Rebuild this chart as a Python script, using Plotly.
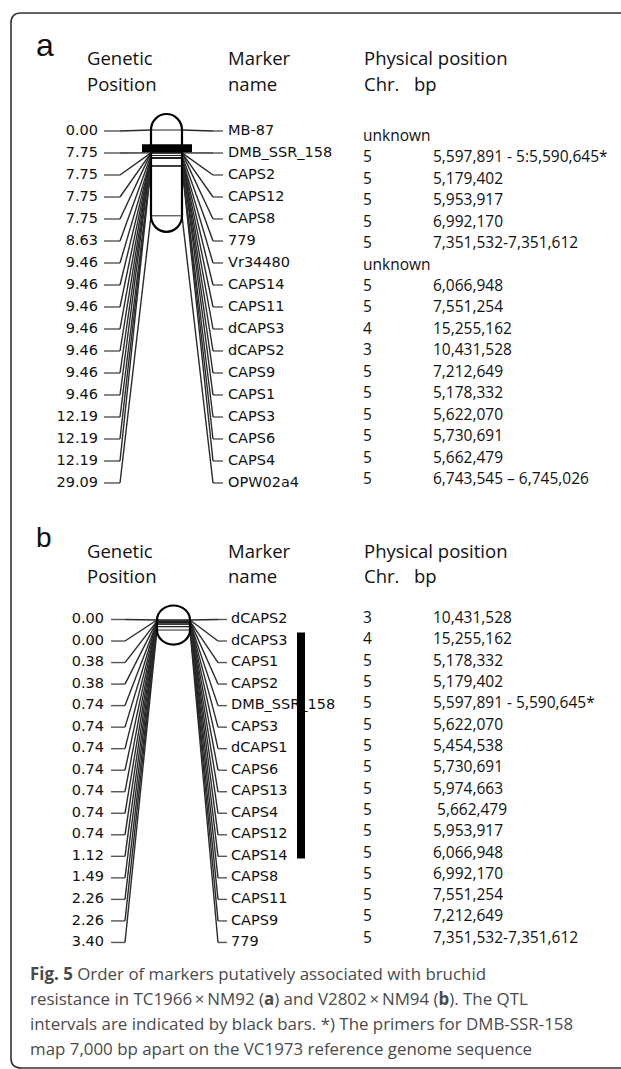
import plotly.graph_objects as go

# ---------------- data ----------------
a_markers = ["MB-87", "DMB_SSR_158", "CAPS2", "CAPS12", "CAPS8", "779", "Vr34480",
             "CAPS14", "CAPS11", "dCAPS3", "dCAPS2", "CAPS9", "CAPS1", "CAPS3",
             "CAPS6", "CAPS4", "OPW02a4"]
a_cm = [0.00, 7.75, 7.75, 7.75, 7.75, 8.63, 9.46, 9.46, 9.46, 9.46, 9.46, 9.46,
        9.46, 12.19, 12.19, 12.19, 29.09]
a_chr = ["unknown", "5", "5", "5", "5", "5", "unknown", "5", "5", "4", "3", "5",
         "5", "5", "5", "5", "5"]
a_bp = ["", "5,597,891 - 5:5,590,645*", "5,179,402", "5,953,917", "6,992,170",
        "7,351,532-7,351,612", "", "6,066,948", "7,551,254", "15,255,162",
        "10,431,528", "7,212,649", "5,178,332", "5,622,070", "5,730,691",
        "5,662,479", "6,743,545 \u2013 6,745,026"]
a_qtl_cm = [4.8, 7.5]

b_markers = ["dCAPS2", "dCAPS3", "CAPS1", "CAPS2", "DMB_SSR_158", "CAPS3", "dCAPS1",
             "CAPS6", "CAPS13", "CAPS4", "CAPS12", "CAPS14", "CAPS8", "CAPS11",
             "CAPS9", "779"]
b_cm = [0.00, 0.00, 0.38, 0.38, 0.74, 0.74, 0.74, 0.74, 0.74, 0.74, 0.74, 1.12,
        1.49, 2.26, 2.26, 3.40]
b_chr = ["3", "4", "5", "5", "5", "5", "5", "5", "5", "5", "5", "5", "5", "5", "5", "5"]
b_bp = ["10,431,528", "15,255,162", "5,178,332", "5,179,402", "5,597,891 - 5,590,645*",
        "5,622,070", "5,454,538", "5,730,691", "5,974,663", "\u00a05,662,479",
        "5,953,917", "6,066,948", "6,992,170", "7,551,254", "7,212,649",
        "7,351,532-7,351,612"]
b_qtl_markers = ["dCAPS3", "CAPS14"]

header_left = ["Genetic", "Position"]
header_mid = ["Marker", "name"]
header_phys = ["Physical position", "Chr.", "bp"]

caption = [
    "<b>Fig. 5</b> Order of markers putatively associated with bruchid",
    "resistance in TC1966\u2009\u00d7\u2009NM92 (<b>a</b>) and V2802\u2009\u00d7\u2009NM94 (<b>b</b>). The QTL",
    "intervals are indicated by black bars. *) The primers for DMB-SSR-158",
    "map 7,000 bp apart on the VC1973 reference genome sequence",
]

# ---------------- layout constants ----------------
W, H = 621, 1069
MARK_FONT = "DejaVu Sans"
TXT_FONT = "Open Sans"

panels = [
    dict(label="a", markers=a_markers, cm=a_cm, chr=a_chr, bp=a_bp,
         lab_xy=(45, 45), lab_size=32, head_y=(57, 83),
         row_y0=131.0, row_dy=22.0, cm_y0=130.0, scale=2.95,
         chrom_x=(151, 182), ry=16, gen_x=98, tickL=(104, 120), tickR=(213, 223),
         mark_x=228, phys_y0=137, phys_dy=21.45),
    dict(label="b", markers=b_markers, cm=b_cm, chr=b_chr, bp=b_bp,
         lab_xy=(44, 537), lab_size=28, head_y=(550, 575),
         row_y0=619.5, row_dy=21.53, cm_y0=620.0, scale=2.95,
         chrom_x=(157, 190), ry=14.5, gen_x=104, tickL=(111, 125), tickR=(218, 227),
         mark_x=231, phys_y0=619, phys_dy=21.33),
]
CHR_X, BP_X = 363, 433

fig = go.Figure()
shapes = []
annotations = []

# frame
shapes.append(dict(type="path", path="M 630,13 L 21,13 Q 11,13 11,23 L 11,1058 Q 11,1068 21,1068 L 630,1068",
                   line=dict(color="#333", width=1.6), layer="below"))

k = 0.5523
for p in panels:
    n = len(p["markers"])
    rows = [p["row_y0"] + i * p["row_dy"] for i in range(n)]
    ypos = [p["cm_y0"] + c * p["scale"] for c in p["cm"]]
    xl, xr = p["chrom_x"]
    cx = (xl + xr) / 2
    rx = (xr - xl) / 2
    ry = p["ry"]
    yt, yb = min(ypos), max(ypos)

    path = (f"M {xl},{yt} C {xl},{yt - k*ry} {cx - k*rx},{yt - ry} {cx},{yt - ry} "
            f"C {cx + k*rx},{yt - ry} {xr},{yt - k*ry} {xr},{yt} L {xr},{yb} "
            f"C {xr},{yb + k*ry} {cx + k*rx},{yb + ry} {cx},{yb + ry} "
            f"C {cx - k*rx},{yb + ry} {xl},{yb + k*ry} {xl},{yb} Z")
    shapes.append(dict(type="path", path=path, fillcolor="white",
                       line=dict(width=0), layer="below"))
    shapes.append(dict(type="path", path=path, fillcolor="rgba(0,0,0,0)",
                       line=dict(color="black", width=2.2), layer="above"))

    # connectors: horizontal ticks (lighter) and diagonals (darker)
    tx, ty, dx, dy = [], [], [], []
    for r, yp in zip(rows, ypos):
        tx += [p["tickL"][0], p["tickL"][1], None, p["tickR"][0], p["tickR"][1], None]
        ty += [r, r, None, r, r, None]
        dx += [p["tickL"][1], xl, None, xr, p["tickR"][0], None]
        dy += [r, yp, None, yp, r, None]
    fig.add_trace(go.Scatter(x=tx, y=ty, mode="lines", line=dict(color="#555", width=1.4),
                             hoverinfo="skip", showlegend=False))
    fig.add_trace(go.Scatter(x=dx, y=dy, mode="lines", line=dict(color="#2a2a2a", width=1.4),
                             hoverinfo="skip", showlegend=False))
    # lines inside chromosome
    ixs, iys = [], []
    for yp in ypos:
        ixs += [xl, xr, None]
        iys += [yp, yp, None]
    fig.add_trace(go.Scatter(x=ixs, y=iys, mode="lines", line=dict(color="#222", width=1),
                             hoverinfo="skip", showlegend=False))

    # genetic position labels
    fig.add_trace(go.Scatter(x=[p["gen_x"]] * n, y=rows, mode="text",
                             text=[f"{c:.2f}" for c in p["cm"]], textposition="middle left",
                             textfont=dict(family=MARK_FONT, size=14.5, color="#111"),
                             hoverinfo="skip", showlegend=False))
    # marker names
    fig.add_trace(go.Scatter(x=[p["mark_x"]] * n, y=rows, mode="text",
                             text=p["markers"], textposition="middle right",
                             textfont=dict(family=MARK_FONT, size=14.5, color="#111"),
                             hoverinfo="skip", showlegend=False))
    # physical table
    prow = [p["phys_y0"] + i * p["phys_dy"] for i in range(n)]
    fig.add_trace(go.Scatter(x=[CHR_X] * n, y=prow, mode="text", text=p["chr"],
                             textposition="middle right",
                             textfont=dict(family=TXT_FONT, size=15.5, color="#111"),
                             hoverinfo="skip", showlegend=False))
    fig.add_trace(go.Scatter(x=[BP_X] * n, y=prow, mode="text", text=p["bp"],
                             textposition="middle right",
                             textfont=dict(family=TXT_FONT, size=15.5, color="#111"),
                             hoverinfo="skip", showlegend=False))

    # headers
    hy1, hy2 = p["head_y"]
    annotations.append(dict(x=p["lab_xy"][0], y=p["lab_xy"][1], text=p["label"],
                            font=dict(family="Liberation Sans", size=p["lab_size"], color="#111"),
                            showarrow=False, xanchor="center", yanchor="middle"))
    for txt, x, y in [(header_left[0], 85, hy1), (header_left[1], 85, hy2),
                      (header_mid[0], 226, hy1), (header_mid[1], 226, hy2),
                      (header_phys[0], 362, hy1), (header_phys[1], 362, hy2),
                      (header_phys[2], 412, hy2)]:
        annotations.append(dict(x=x, y=y, text=txt, showarrow=False, xanchor="left",
                                yanchor="middle",
                                font=dict(family=TXT_FONT, size=18.5, color="#111")))
    p["rows"] = rows
    p["ypos"] = ypos

# QTL bars
pa = panels[0]
xl, xr = pa["chrom_x"]
shapes.append(dict(type="rect", x0=xl - 9, x1=xr + 10,
                   y0=pa["cm_y0"] + a_qtl_cm[0] * pa["scale"],
                   y1=pa["cm_y0"] + a_qtl_cm[1] * pa["scale"],
                   fillcolor="black", line=dict(width=0), layer="above"))
pb = panels[1]
i0 = b_markers.index(b_qtl_markers[0])
i1 = b_markers.index(b_qtl_markers[1])
shapes.append(dict(type="rect", x0=297, x1=305,
                   y0=pb["rows"][i0] - 0.4 * pb["row_dy"],
                   y1=pb["rows"][i1] + 0.1 * pb["row_dy"],
                   fillcolor="black", line=dict(width=0), layer="above"))

# caption
for i, line in enumerate(caption):
    annotations.append(dict(x=28, y=973 + i * 25, text=line, showarrow=False,
                            xanchor="left", yanchor="middle", align="left",
                            font=dict(family=TXT_FONT, size=16.9, color="#4a4a4a")))

fig.update_layout(
    width=W, height=H, margin=dict(l=0, r=0, t=0, b=0),
    paper_bgcolor="white", plot_bgcolor="white",
    xaxis=dict(range=[0, W], visible=False, fixedrange=True),
    yaxis=dict(range=[H, 0], visible=False, fixedrange=True),
    shapes=shapes, annotations=annotations, showlegend=False,
)
fig.write_html("out.html", config={"displayModeBar": False},
               post_script="document.body.style.margin='0';document.body.style.overflow='hidden';")
